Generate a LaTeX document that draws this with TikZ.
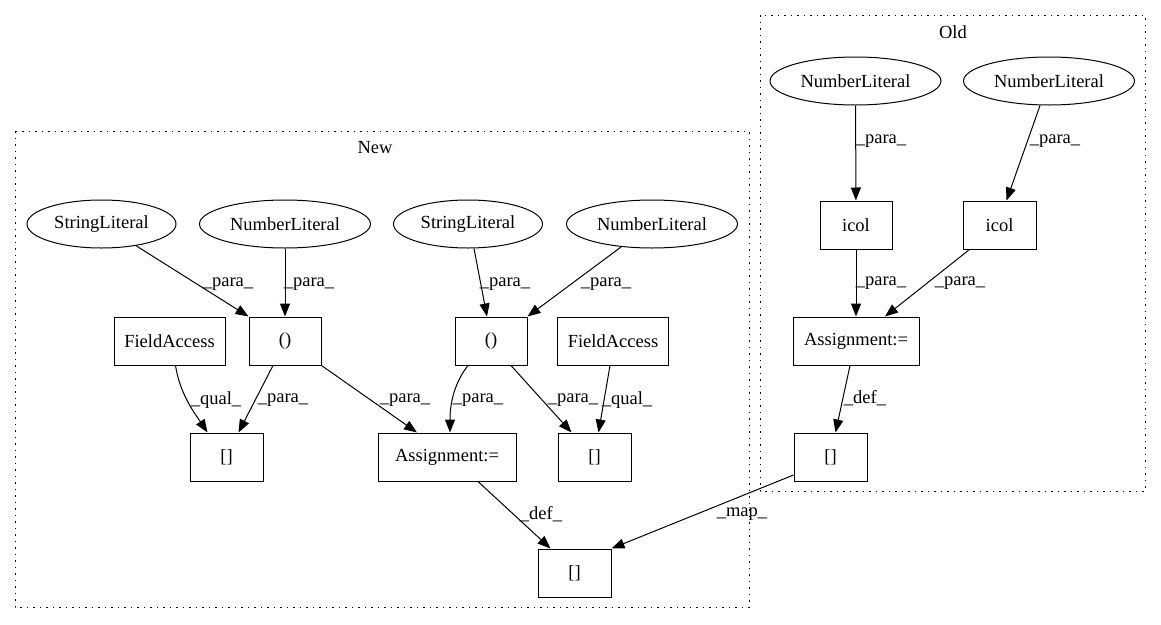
\documentclass[tikz,border=0pt]{standalone}
\usepackage{fontspec}
\setmainfont{Liberation Serif}
\usetikzlibrary{shapes.geometric,arrows.meta}
\begin{document}
\begin{tikzpicture}[x=1pt,y=-1pt,
  txt/.style={font=\fontsize{18.5}{20}\selectfont},
  box/.style={txt,draw,rectangle,minimum height=48pt,inner sep=0pt,line width=1pt},
  ell/.style={txt,draw,ellipse,minimum height=48pt,inner sep=0pt,line width=1pt},
  edge/.style={-{Triangle[length=13pt,width=10pt]},line width=1pt},
  lbl/.style={txt,inner sep=0pt},
  cluster/.style={draw,line width=1pt,dash pattern=on 1.5pt off 5pt}]
\useasboundingbox (0,0) rectangle (1161,624);
% clusters
\draw[cluster] (15,131) rectangle (749,607);
\node[txt] (tnew) at (375,148) {New};
\draw[cluster] (760,15) rectangle (1145,491);
\node[txt] (told) at (953,32) {Old};
% New nodes
\node[ell,minimum width=149pt] (sl1) at (101.5,224) {StringLiteral};
\node[ell,minimum width=171pt] (nl1) at (285,224) {NumberLiteral};
\node[ell,minimum width=149pt] (sl2) at (468,224) {StringLiteral};
\node[ell,minimum width=171pt] (nl2) at (652,224) {NumberLiteral};
\node[box,minimum width=111pt] (fa1) at (169.5,341) {FieldAccess};
\node[box,minimum width=72pt] (p1) at (285,341) {()};
\node[box,minimum width=72pt] (p2) at (491,341) {()};
\node[box,minimum width=111pt] (fa2) at (613,341) {FieldAccess};
\node[box,minimum width=73pt] (b1) at (226.5,457) {[]};
\node[box,minimum width=138pt] (as1) at (447,457) {Assignment:=};
\node[box,minimum width=73pt] (b2) at (594.5,457) {[]};
\node[box,minimum width=73pt] (b3) at (574.5,573) {[]};
% Old nodes
\node[ell,minimum width=171pt] (ol1) at (855.5,81) {NumberLiteral};
\node[ell,minimum width=171pt] (ol2) at (1049,81) {NumberLiteral};
\node[box,minimum width=72pt] (icl) at (856,225) {icol};
\node[box,minimum width=73pt] (icr) at (999.5,225) {icol};
\node[box,minimum width=126pt] (ao) at (856,341) {Assignment:=};
\node[box,minimum width=73pt] (bo) at (830.5,457) {[]};
% New edges
\draw[edge] (sl1) -- (p1.north west) node[lbl] at (228,284) {\_para\_};
\draw[edge] (nl1) -- (p1) node[lbl] at (309,284) {\_para\_};
\draw[edge] ([xshift=6pt]fa1.south) .. controls (180,395) and (196,415) .. ([xshift=-19pt]b1.north) node[lbl] at (216,400) {\_qual\_};
\draw[edge] ([xshift=-12pt]p1.south) -- ([xshift=12pt]b1.north) node[lbl] at (283,400) {\_para\_};
\draw[edge] (p1.south east) -- ([xshift=-30pt]as1.north) node[lbl] at (405,400) {\_para\_};
\draw[edge] ([xshift=6pt]sl2.south) -- ([xshift=-4pt]p2.north) node[lbl] at (505,284) {\_para\_};
\draw[edge] (nl2) -- (p2.north east) node[lbl] at (606,284) {\_para\_};
\draw[edge] ([xshift=-23pt]p2.south) .. controls (455,382) and (450,402) .. ([xshift=3pt]as1.north) node[lbl] at (478,400) {\_para\_};
\draw[edge] ([xshift=20pt]p2.south) -- ([xshift=-23pt]b2.north) node[lbl] at (573,400) {\_para\_};
\draw[edge] ([xshift=-3pt]fa2.south) -- ([xshift=4pt]b2.north) node[lbl] at (627,400) {\_qual\_};
\draw[edge] ([xshift=31pt]as1.south) -- ([xshift=-24pt]b3.north) node[lbl] at (541,514) {\_def\_};
% Old edges
\draw[edge] (ol1) -- (icl) node[lbl] at (881,141) {\_para\_};
\draw[edge] ([xshift=-9pt]ol2.south) -- ([xshift=7pt]icr.north) node[lbl] at (1055,141) {\_para\_};
\draw[edge] (icl) -- (ao) node[lbl] at (881,283) {\_para\_};
\draw[edge] ([xshift=-30pt]icr.south) -- ([xshift=29pt]ao.north) node[lbl] at (960,283) {\_para\_};
\draw[edge] ([xshift=-6pt]ao.south) -- ([xshift=5pt]bo.north) node[lbl] at (865,398) {\_def\_};
% map edge
\draw[edge] ([yshift=-18pt]bo.west) -- (b3.north east) node[lbl] at (742,514) {\_map\_};
\end{tikzpicture}
\end{document}
